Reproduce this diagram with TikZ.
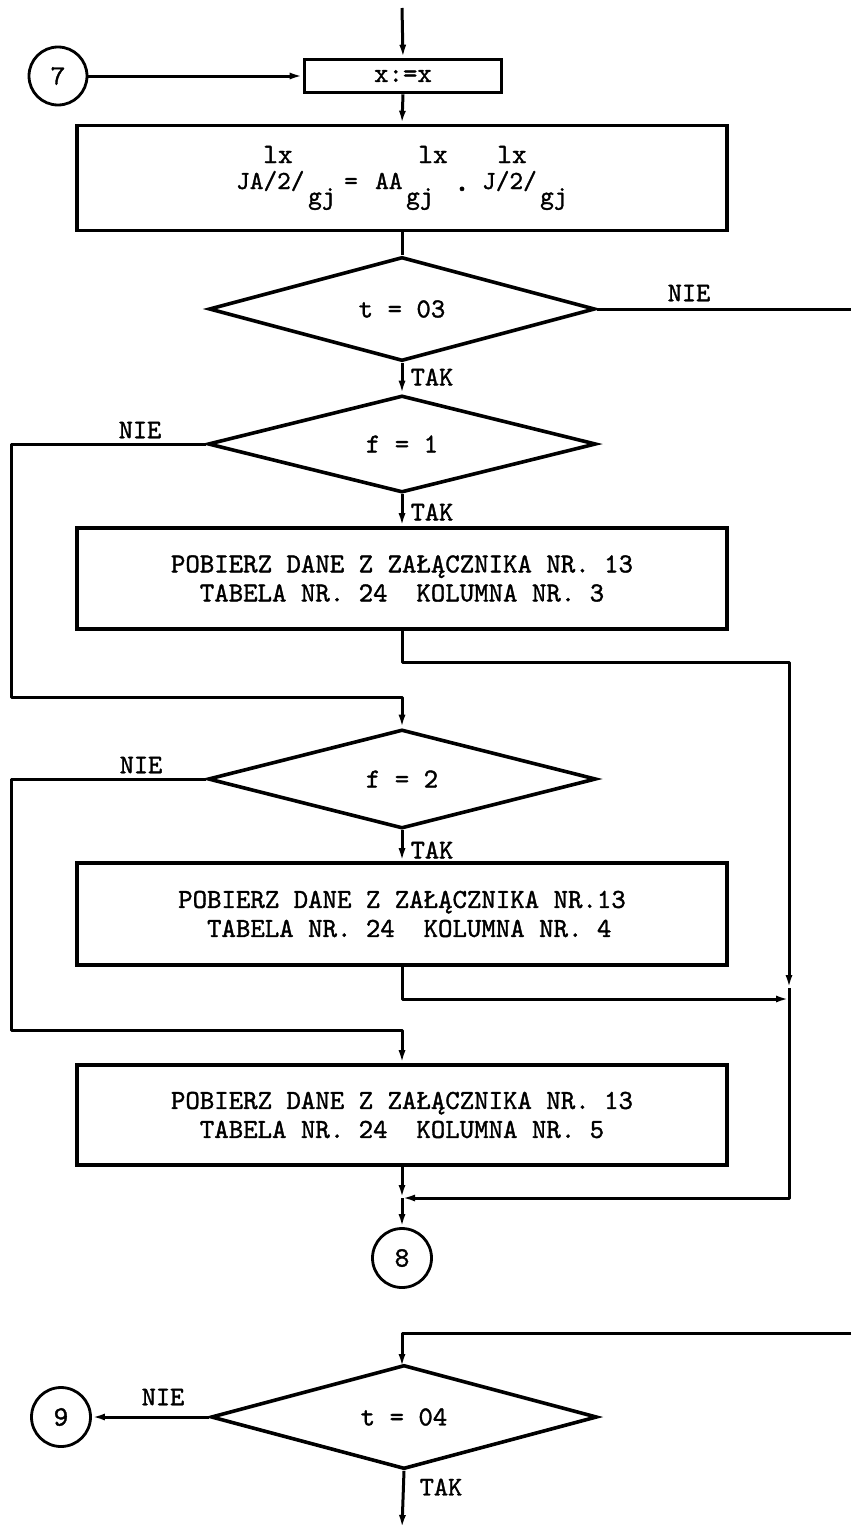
\documentclass[tikz,border=0pt]{standalone}
\usepackage{fontspec}
\usetikzlibrary{shapes.geometric,arrows.meta}
\newfontfamily\twfam[FakeBold=1.3]{lmmono10-regular.otf}
\newcommand\bxfont{\twfam\fontsize{27.5}{29}\selectfont}
\newcommand\lbfont{\twfam\fontsize{27}{29}\selectfont}
\newcommand\fmfont{\twfam\fontsize{26}{28}\selectfont}
\newcommand\supfont{\twfam\fontsize{28}{30}\selectfont}
\newcommand\cnfont{\twfam\fontsize{28}{30}\selectfont}
\tikzset{
  ln/.style={line width=3pt, line join=round},
  arr/.style={ln, -{Latex[length=13pt,width=7pt]}},
  boxnode/.style={draw, line width=3.6pt, minimum width=650pt, minimum height=102pt, inner sep=0pt, align=center, font=\bxfont},
  dia/.style={draw, diamond, line width=3.6pt, minimum width=386pt, minimum height=98pt, inner sep=0pt, font=\bxfont},
  conn/.style={draw, circle, line width=2.8pt, minimum size=58pt, inner sep=0pt, font=\cnfont},
  lbl/.style={font=\lbfont, inner sep=0pt},
  fm/.style={font=\fmfont, inner sep=0pt},
  sup/.style={font=\supfont, inner sep=0pt},
}
\begin{document}
\begin{tikzpicture}[x=1pt,y=-1pt]
\useasboundingbox[fill=white] (0,0) rectangle (851,1528);
% nodes
\node[boxnode, minimum width=197pt, minimum height=33pt] (xx) at (403,76) {x:=x};
\node[conn] (c7) at (58,76) {7};
\node[boxnode, minimum height=105pt] (big) at (402,178) {};
\node[fm, anchor=base west] (f1) at (236,189) {JA/2/};
\node[fm, anchor=base west] (f2) at (308,204) {gj};
\node[fm, anchor=base west] (f3) at (344,189) {=};
\node[fm, anchor=base west] (f4) at (375,189) {AA};
\node[fm, anchor=base west] (f5) at (406,204) {gj};
\node[fm, anchor=base] (f6) at (462,191) {{\fontsize{34}{34}\selectfont .}};
\node[fm, anchor=base west] (f7) at (482,189) {J/2/};
\node[fm, anchor=base west] (f8) at (540,204) {gj};
\node[sup, anchor=base] (s1) at (278,163) {lx};
\node[sup, anchor=base] (s2) at (433,163) {lx};
\node[sup, anchor=base] (s3) at (512,163) {lx};
\node[dia] (d1) at (402,309) {t = 03};
\node[dia, minimum width=388pt, minimum height=97pt] (d2) at (402,444) {f = 1};
\node[boxnode, minimum height=101pt] (b3) at (402,578.5) {POBIERZ DANE Z ZAŁĄCZNIKA NR. 13\\TABELA NR. 24\ \ KOLUMNA NR. 3};
\node[dia, minimum width=388pt, minimum height=99pt] (d3) at (402,779) {f = 2};
\node[boxnode] (b4) at (402,914) {POBIERZ DANE Z ZAŁĄCZNIKA NR.13\\\ TABELA NR. 24\ \ KOLUMNA NR. 4};
\node[boxnode, minimum height=100pt] (b5) at (402,1115) {POBIERZ DANE Z ZAŁĄCZNIKA NR. 13\\TABELA NR. 24\ \ KOLUMNA NR. 5};
\node[conn, minimum size=59pt] (c8) at (402,1258) {8};
\node[dia, minimum width=386pt, minimum height=100pt] (d4) at (404,1417) {t = 04};
\node[conn, minimum size=59pt] (c9) at (61,1417) {9};
% labels
\node[lbl] (n1) at (689,293) {NIE};
\node[lbl] (t1) at (432,377) {TAK};
\node[lbl] (n2) at (140,430) {NIE};
\node[lbl] (t2) at (432,512) {TAK};
\node[lbl] (n3) at (141,765) {NIE};
\node[lbl] (t3) at (432,850) {TAK};
\node[lbl] (n4) at (163,1397) {NIE};
\node[lbl] (t4) at (441,1487) {TAK};
% coordinates
\coordinate (top) at (402,8);
\coordinate (e1) at (851,309);
\coordinate (l2) at (11,697);
\coordinate (r1) at (789,662);
\coordinate (rm) at (789,988);
\coordinate (rm2) at (789,999);
\coordinate (j1) at (402,1198);
\coordinate (l3) at (11,1030);
\coordinate (e4) at (851,1333);
\coordinate (d4t) at (402,1367);
\coordinate (bot) at (402,1528);
% connectors
\draw[arr] (top) -- (xx.north);
\draw[arr] (c7.east) -- (xx.west);
\draw[arr] (xx.south) -- (big.north);
\draw[ln] (big.south) -- (d1.north);
\draw[ln] (d1.east) -- (e1);
\draw[arr] (d1.south) -- (d2.north);
\draw[arr] (d2.west) -| (l2) -| (d3.north);
\draw[arr] (d2.south) -- (b3.north);
\draw[arr] (b3.south) |- (r1) -- (rm);
\draw[arr] (rm) |- (j1);
\draw[arr] (d3.west) -| (l3) -| (b5.north);
\draw[arr] (d3.south) -- (b4.north);
\draw[arr] (b4.south) |- (rm2);
\draw[arr] (b5.south) -- (j1);
\draw[arr] (j1) -- (c8.north);
\draw[arr] (e4) -| (d4t);
\draw[arr] (d4.west) -- (c9.east);
\draw[arr] (d4.south) -- (bot);
\end{tikzpicture}
\end{document}
